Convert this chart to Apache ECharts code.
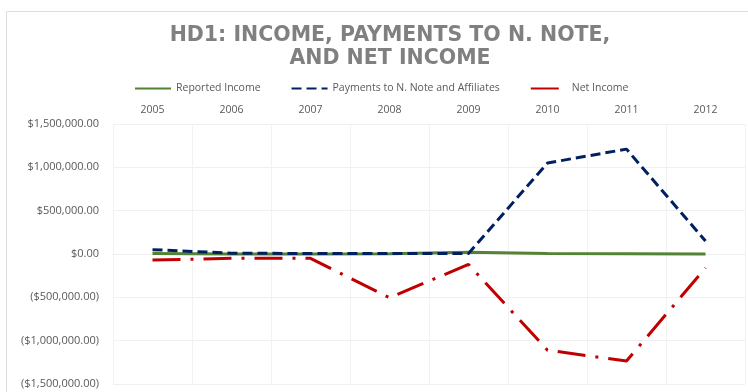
<!DOCTYPE html>
<html>
<head>
<meta charset="utf-8">
<title>HD1 Income chart</title>
<script src="https://cdn.jsdelivr.net/npm/echarts@6/dist/echarts.min.js"></script>
<style>
  html, body { margin: 0; padding: 0; background: #fff; }
  #chart { width: 748px; height: 392px; }
</style>
</head>
<body>
<div id="chart"></div>
<script>
// data
const years = ['2005', '2006', '2007', '2008', '2009', '2010', '2011', '2012'];
const reportedIncome = [5000, 0, 0, 2000, 20000, 5000, 3000, 0];
const payments = [50000, 10000, 5000, 5000, 5000, 1050000, 1210000, 150000];
const netIncome = [-70000, -50000, -50000, -505000, -120000, -1110000, -1235000, -160000];

const gray = '#808080';
const labelGray = '#595959';

function money(v) {
  const s = '$' + Math.abs(v).toLocaleString('en-US', { minimumFractionDigits: 2, maximumFractionDigits: 2 });
  return v < 0 ? '(' + s + ')' : s;
}

const chart = echarts.init(document.getElementById('chart'));

chart.setOption({
  animation: false,
  title: {
    text: 'HD1: INCOME, PAYMENTS TO N. NOTE,\nAND NET INCOME',
    left: 385,
    textAlign: 'center',
    top: 19,
    textStyle: {
      fontFamily: 'DejaVu Sans',
      fontWeight: 'bold',
      fontSize: 20.5,
      lineHeight: 23,
      color: gray
    }
  },
  legend: {
    left: 129,
    top: 78,
    itemWidth: 36,
    itemHeight: 10,
    itemGap: 30,
    itemStyle: { opacity: 0 },
    textStyle: { fontFamily: 'Open Sans', fontSize: 10.5, color: labelGray },
    data: ['Reported Income', 'Payments to N. Note and Affiliates', 'Net Income']
  },
  graphic: [{
    type: 'rect',
    shape: { x: 6.5, y: 11.5, width: 760, height: 400 },
    style: { fill: 'none', stroke: '#dddddd', lineWidth: 1 },
    silent: true
  }],
  grid: { left: 113, right: 3, top: 124, bottom: 8 },
  xAxis: {
    type: 'category',
    position: 'top',
    data: years,
    boundaryGap: true,
    axisLine: { show: true, lineStyle: { color: '#eeeeee' } },
    axisTick: { show: false },
    axisLabel: { fontFamily: 'Open Sans', fontSize: 10.5, color: labelGray, margin: 8 },
    splitLine: { show: true, lineStyle: { color: '#f2f2f2' } }
  },
  yAxis: {
    type: 'value',
    min: -1500000,
    max: 1500000,
    interval: 500000,
    axisLine: { show: false },
    axisTick: { show: false },
    axisLabel: {
      fontFamily: 'Open Sans',
      fontSize: 11,
      color: labelGray,
      margin: 14,
      formatter: money
    },
    splitLine: { lineStyle: { color: '#f0f0f0' } }
  },
  series: [
    {
      name: 'Reported Income',
      type: 'line',
      data: reportedIncome,
      symbol: 'none',
      lineStyle: { color: '#548235', width: 3 },
      itemStyle: { color: '#548235' }
    },
    {
      name: 'Payments to N. Note and Affiliates',
      type: 'line',
      data: payments,
      symbol: 'none',
      lineStyle: { color: '#002060', width: 3, type: [10, 5] },
      itemStyle: { color: '#002060' }
    },
    {
      name: 'Net Income',
      type: 'line',
      data: netIncome,
      symbol: 'none',
      lineStyle: { color: '#c00000', width: 3, type: [28, 10, 3, 10] },
      itemStyle: { color: '#c00000' }
    }
  ]
});
</script>
</body>
</html>
